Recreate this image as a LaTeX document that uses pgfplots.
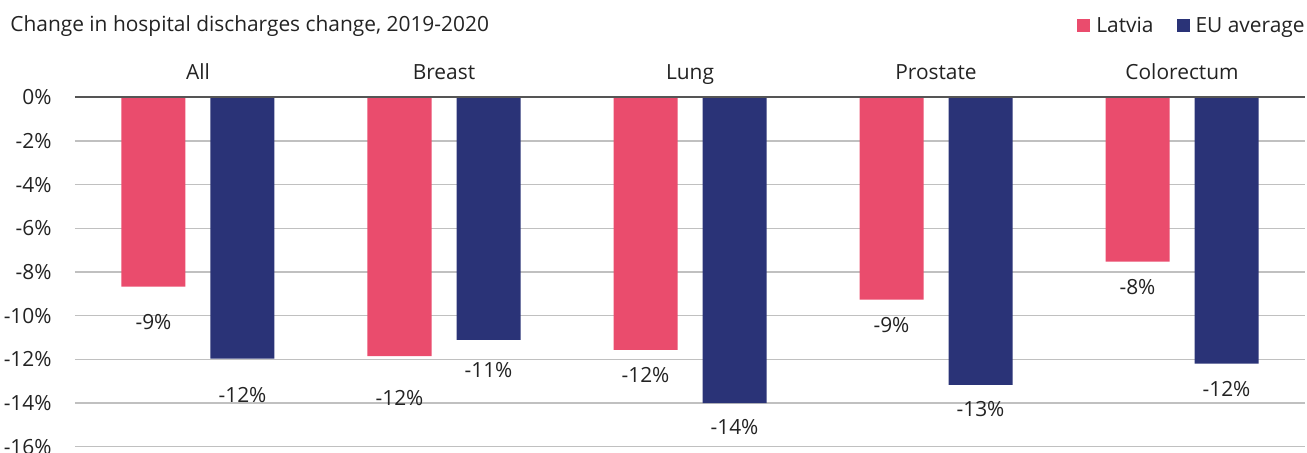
\documentclass[border=0pt]{standalone}
\usepackage{pgfplots}
\pgfplotsset{compat=1.18}
\usepackage{pgfplotstable}
\usepackage{fontspec}
\setmainfont{Open Sans}

\definecolor{latvia}{RGB}{234,76,109}
\definecolor{euavg}{RGB}{42,51,119}
\definecolor{txt}{RGB}{35,35,35}
\definecolor{gridc}{RGB}{192,192,192}
\definecolor{zeroc}{RGB}{85,85,85}
\newcommand\chartfont{\fontsize{10.45}{12.5}\selectfont}

% change in hospital discharges (%), label offset below bar end (pt)
\pgfplotstableread{
x val off
0 -8.67 17.5
1 -11.85 21
2 -11.57 12.5
3 -9.27 12.5
4 -7.53 12.5
}\latviadata
\pgfplotstableread{
x val off
0 -11.97 18
1 -11.11 15
2 -14.01 11.7
3 -13.17 12
4 -12.20 12.5
}\eudata

\pgfplotsset{
  sq legend/.style={legend image code/.code={\fill[##1] (0pt,-2.6pt) rectangle (6.5pt,3.9pt);}},
}

\begin{document}
\begin{tikzpicture}
\useasboundingbox (-37.5pt,-3.15pt) rectangle (616pt,223.35pt);
\begin{axis}[
  at={(0,0)}, anchor=south west,
  scale only axis, width=615pt, height=174.7pt,
  xmin=-0.5, xmax=4.5, ymin=-16, ymax=0,
  ybar, bar width=32pt,
  axis line style={draw=none},
  major tick length=0pt, tick style={draw=none},
  ytick={-16,-14,...,0},
  yticklabel={\pgfmathprintnumber{\tick}\%},
  yticklabel style={inner sep=0pt, xshift=-11.5pt, anchor=east},
  xtick={0,1,2,3,4},
  xticklabels={All,Breast,Lung,Prostate,Colorectum},
  xticklabel pos=upper,
  xticklabel style={inner sep=0pt, anchor=base, yshift=8.7pt},
  tick label style={font=\chartfont, text=txt},
  /pgf/number format/assume math mode=true,
  ymajorgrids, grid style={draw=gridc, line width=0.7pt},
  clip=false,
  nodes near coords={\pgfmathprintnumber[fixed,precision=0]{\pgfplotspointmeta}\%},
  visualization depends on={\thisrow{off} \as \laboff},
  nodes near coords style={anchor=center, inner sep=0pt, yshift=-\laboff*1pt, font=\chartfont, text=txt},
  legend columns=2,
  legend style={draw=none, fill=none, at={(rel axis cs:1,1)}, anchor=south east,
    yshift=30.5pt, font=\chartfont, text=txt, inner sep=0pt,
    nodes={inner sep=0pt},
    /tikz/every odd column/.append style={column sep=3pt},
    /tikz/every even column/.append style={column sep=11.5pt}},
  legend cell align=left,
]
\addplot[draw=none, fill=latvia, bar shift=-22.25pt, sq legend] table[x=x, y=val] {\latviadata};
\addlegendentry{Latvia}
\addplot[draw=none, fill=euavg, bar shift=22.25pt, sq legend] table[x=x, y=val] {\eudata};
\addlegendentry{EU average}
\draw[zeroc, line width=0.8pt] (rel axis cs:0,1) -- (rel axis cs:1,1);
\node[anchor=base west, inner sep=0pt, font=\chartfont, text=txt, xshift=-32.5pt, yshift=32.8pt]
  at (rel axis cs:0,1) {Change in hospital discharges change, 2019-2020};
\end{axis}
\end{tikzpicture}
\end{document}
